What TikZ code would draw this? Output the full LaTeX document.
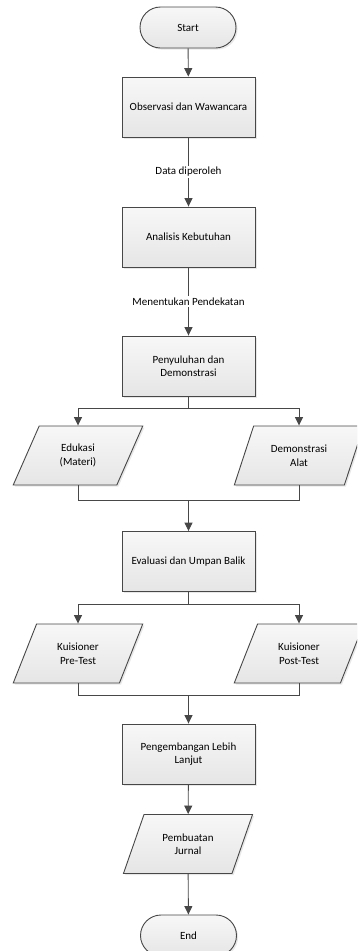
\documentclass[tikz,border=0pt]{standalone}
\usepackage{fontspec}
\setmainfont{Carlito}
\usetikzlibrary{shapes.geometric,shapes.misc,arrows.meta,shadows}
\begin{document}
\begin{tikzpicture}[x=1pt,y=-1pt,
  font=\fontsize{11}{13.5}\selectfont,
  line width=0.9pt,
  boxstyle/.style={draw=black!72, top color=white!97!black, bottom color=white!90!black,
    drop shadow={opacity=0.18, shadow xshift=1.6pt, shadow yshift=-1.6pt},
    align=center, inner sep=2pt},
  procbox/.style={boxstyle, rectangle, minimum width=133pt, minimum height=60pt},
  termbox/.style={boxstyle, rounded rectangle, minimum width=100pt, minimum height=41pt},
  iobox/.style={boxstyle, trapezium, trapezium left angle=63, trapezium right angle=117,
    trapezium stretches=true, minimum width=130pt, minimum height=59pt},
  flow/.style={draw=black!72, -{Triangle[width=8pt,length=8.5pt]}},
  plain/.style={draw=black!72},
  edgelabel/.style={fill=white, inner sep=1.5pt}]
\useasboundingbox (0,0) rectangle (357,951);
\clip (0,0) rectangle (357,951);

\node[termbox] (start) at (188,27.5) {Start};
\node[procbox] (obs) at (188.5,107) {Observasi dan Wawancara};
\node[procbox] (ana) at (188.5,237) {Analisis Kebutuhan};
\node[procbox] (peny) at (188.5,366) {Penyuluhan dan\\Demonstrasi};
\node[iobox] (edu) at (78,455.5) {Edukasi\\(Materi)};
\node[iobox] (demo) at (299,455.5) {Demonstrasi\\Alat};
\node[procbox] (eval) at (188.5,561.5) {Evaluasi dan Umpan Balik};
\node[iobox] (pre) at (78,653.5) {Kuisioner\\Pre-Test};
\node[iobox] (post) at (299,653.5) {Kuisioner\\Post-Test};
\node[procbox] (peng) at (188.5,754) {Pengembangan Lebih\\Lanjut};
\node[iobox] (pemb) at (188,844) {Pembuatan\\Jurnal};
\node[termbox] (end) at (188.5,935.5) {End};

\coordinate (b1) at (188.5,408);
\coordinate (m1) at (188.5,500);
\coordinate (b2) at (188.5,604);
\coordinate (m2) at (188.5,695);

\draw[flow] (start) -- (obs);
\draw[flow] (obs) -- node[edgelabel] (lab1) {Data diperoleh} (ana);
\draw[flow] (ana) -- node[edgelabel] (lab2) {Menentukan Pendekatan} (peny);

\draw[plain] (peny.south) -- (b1);
\draw[flow] (b1) -| (edu.north);
\draw[flow] (b1) -| (demo.north);
\draw[plain] (edu.south) |- (m1);
\draw[plain] (demo.south) |- (m1);
\draw[flow] (m1) -- (eval.north);

\draw[plain] (eval.south) -- (b2);
\draw[flow] (b2) -| (pre.north);
\draw[flow] (b2) -| (post.north);
\draw[plain] (pre.south) |- (m2);
\draw[plain] (post.south) |- (m2);
\draw[flow] (m2) -- (peng.north);

\draw[flow] (peng) -- (pemb);
\draw[flow] (pemb) -- (end);
\end{tikzpicture}
\end{document}
